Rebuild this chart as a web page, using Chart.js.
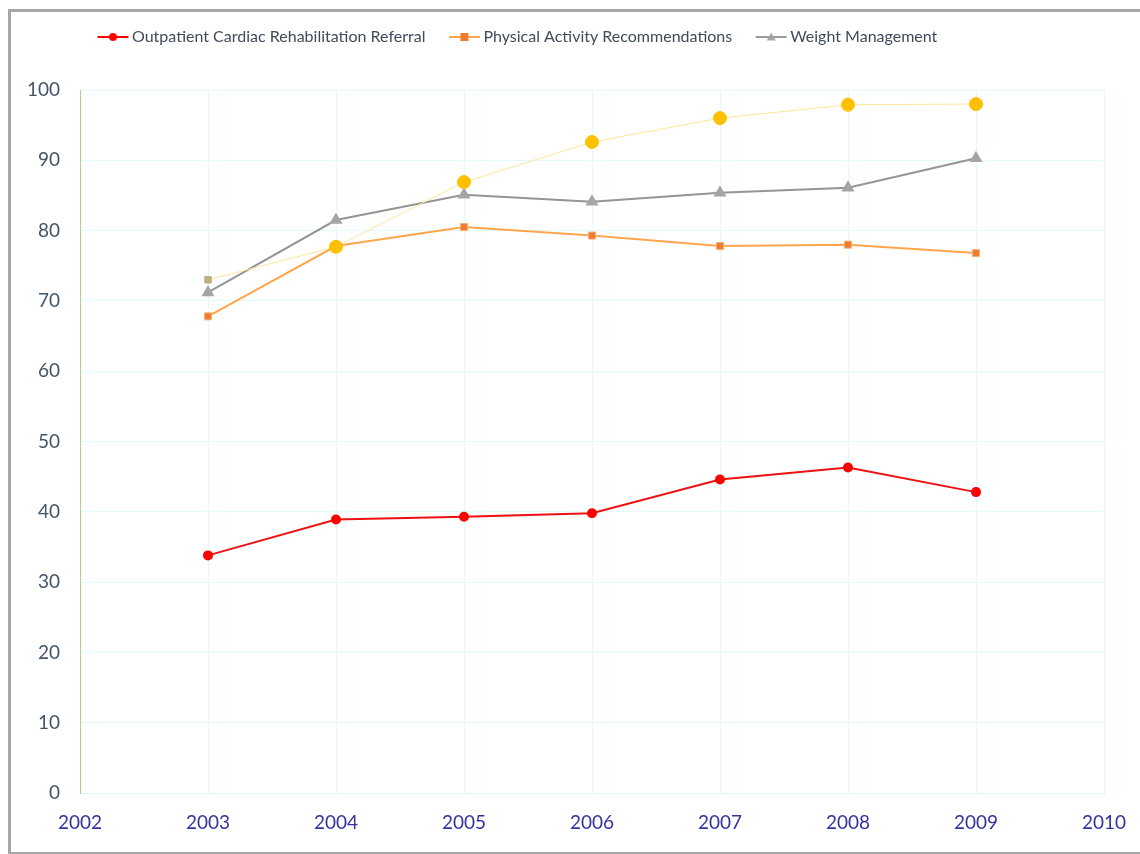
<!DOCTYPE html>
<html>
<head>
<meta charset="utf-8">
<script src="https://cdn.jsdelivr.net/npm/chart.js@4"></script>
<style>
  body { margin: 0; background: #fff; }
  #wrap { position: relative; width: 1140px; height: 854px; overflow: hidden; }
  #frame { position: absolute; left: 8px; top: 9px; width: 1200px; height: 840px;
    border: 3px solid #a6a6a6; border-right: none; }
  canvas { position: absolute; left: 0; top: 0; }
</style>
</head>
<body>
<div id="wrap">
  <div id="frame"></div>
  <canvas id="chart" width="1140" height="854"></canvas>
</div>
<script>
const years = [2003, 2004, 2005, 2006, 2007, 2008, 2009];
const cardiacRehab = [33.8, 38.9, 39.3, 39.8, 44.6, 46.3, 42.8];
const physicalActivity = [67.8, 77.8, 80.5, 79.3, 77.8, 78.0, 76.8];
const weightManagement = [71.2, 81.5, 85.1, 84.1, 85.4, 86.1, 90.3];
const unlabeledSeries = [73.0, 77.7, 86.9, 92.6, 96.0, 97.9, 98.0];
const seriesNames = [
  'Outpatient Cardiac Rehabilitation Referral',
  'Physical Activity Recommendations',
  'Weight Management',
];

const toPoints = (vals) => vals.map((v, i) => ({ x: years[i], y: v }));

// legend swatch: short line with the marker in the middle
function swatch(lineColor, fill, shape) {
  const c = document.createElement('canvas');
  c.width = 38;
  c.height = 12;
  const ctx = c.getContext('2d');
  ctx.strokeStyle = lineColor;
  ctx.lineWidth = 2;
  ctx.beginPath();
  ctx.moveTo(6, 6);
  ctx.lineTo(37, 6);
  ctx.stroke();
  ctx.fillStyle = fill;
  ctx.beginPath();
  if (shape === 'circle') ctx.arc(21.5, 6, 4, 0, Math.PI * 2);
  if (shape === 'rect') ctx.rect(17.5, 2, 8, 8);
  if (shape === 'triangle') { ctx.moveTo(21.5, 1.5); ctx.lineTo(26, 9.5); ctx.lineTo(17, 9.5); ctx.closePath(); }
  ctx.fill();
  return c;
}

const swatches = [
  swatch('#ff0000', '#ff0000', 'circle'),
  swatch('#ffa64d', '#ed7d31', 'rect'),
  swatch('#999999', '#a5a5a5', 'triangle'),
];

// move the legend up and to the right, like the original
const legendShift = {
  id: 'legendShift',
  afterLayout(chart) {
    chart.legend.top -= 35;
    chart.legend.bottom -= 35;
    chart.legend.left += 74;
    chart.legend.right += 74;
  },
};

new Chart(document.getElementById('chart'), {
  type: 'line',
  data: {
    datasets: [
      {
        label: 'unlabeled',
        data: toPoints(unlabeledSeries),
        borderColor: '#ffe699',
        borderWidth: 1,
        pointStyle: ['rect', 'circle', 'circle', 'circle', 'circle', 'circle', 'circle'],
        pointRadius: [4.5, 6.5, 6.5, 6.5, 6.5, 6.5, 6.5],
        pointBackgroundColor: ['#c2b274', '#ffc000', '#ffc000', '#ffc000', '#ffc000', '#ffc000', '#ffc000'],
        pointBorderColor: ['#b0a890', '#ffc000', '#ffc000', '#ffc000', '#ffc000', '#ffc000', '#ffc000'],
        pointBorderWidth: 1,
        order: 0,
      },
      {
        label: seriesNames[0],
        data: toPoints(cardiacRehab),
        borderColor: '#ee1111',
        borderWidth: 2,
        pointStyle: 'circle',
        pointRadius: 4,
        pointBackgroundColor: '#ff0000',
        pointBorderColor: '#ff0000',
        order: 1,
      },
      {
        label: seriesNames[1],
        data: toPoints(physicalActivity),
        borderColor: '#ffa64d',
        borderWidth: 2,
        pointStyle: 'rect',
        pointRadius: 5,
        pointBackgroundColor: '#ed7d31',
        pointBorderColor: '#f9b27a',
        pointBorderWidth: 1,
        order: 2,
      },
      {
        label: seriesNames[2],
        data: toPoints(weightManagement),
        borderColor: '#959595',
        borderWidth: 2,
        pointStyle: 'triangle',
        pointRadius: 5.5,
        pointBackgroundColor: '#a5a5a5',
        pointBorderColor: '#a5a5a5',
        order: 3,
      },
    ],
  },
  options: {
    responsive: false,
    animation: false,
    layout: { padding: { left: 0, top: 41, right: 36, bottom: 0 } },
    plugins: {
      tooltip: { enabled: false },
      legend: {
        position: 'top',
        align: 'start',
        labels: {
          usePointStyle: true,
          pointStyleWidth: 27,
          padding: 23,
          color: '#404a5c',
          font: { family: 'Lato', size: 16 },
          filter: (item) => item.datasetIndex > 0,
          generateLabels: (chart) =>
            chart.data.datasets.map((ds, i) => ({
              text: ds.label,
              datasetIndex: i,
              pointStyle: i > 0 ? swatches[i - 1] : 'circle',
              fontColor: '#404a5c',
              lineWidth: 0,
            })),
        },
      },
    },
    scales: {
      x: {
        type: 'linear',
        min: 2002,
        max: 2010,
        afterFit: (scale) => {
          scale.height = 61;
          scale.paddingLeft = 0;
          scale.paddingRight = 0;
        },
        grid: { color: '#e2fafa', drawTicks: false },
        border: { color: '#d8f8f8' },
        ticks: {
          stepSize: 1,
          padding: 18,
          color: '#3333a0',
          font: { family: 'Lato', size: 19 },
          callback: (v) => String(v),
        },
      },
      y: {
        min: 0,
        max: 100,
        afterFit: (scale) => { scale.width = 80; },
        grid: { color: '#e2fafa', drawTicks: false },
        border: { color: '#a9d18e' },
        ticks: {
          stepSize: 10,
          padding: 20,
          color: '#44546a',
          font: { family: 'Lato', size: 19 },
        },
      },
    },
  },
  plugins: [legendShift],
});
</script>
</body>
</html>
